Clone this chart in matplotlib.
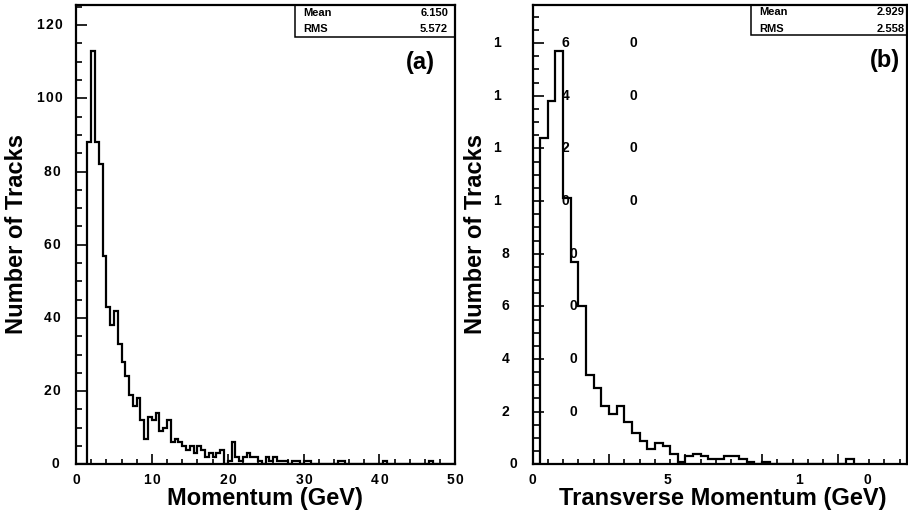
import numpy as np
import matplotlib
matplotlib.use("Agg")
import matplotlib.pyplot as plt
from matplotlib.patches import Rectangle
from matplotlib.ticker import FixedLocator, NullFormatter

plt.rcParams['font.family'] = ['Liberation Sans', 'DejaVu Sans']
plt.rcParams['font.weight'] = 'bold'

# --- panel (a): track momentum, 0.5 GeV bins over 0..50
p_bin_width = 0.5
p_counts = [0, 0, 0, 88, 113, 88, 82, 57, 43, 38,
            42, 33, 28, 24, 19, 16, 18, 12, 7, 13,
            12, 14, 9, 10, 12, 6, 7, 6, 5, 4,
            5, 3, 5, 4, 2, 3, 2, 3, 4, 0,
            1, 6, 2, 1, 2, 3, 2, 2, 1, 0,
            2, 1, 2, 1, 1, 1, 0, 1, 1, 0,
            1, 1, 0, 0, 0, 0, 0, 0, 0, 1,
            1, 0, 0, 0, 0, 0, 0, 0, 0, 0,
            0, 1, 0, 0, 0, 0, 0, 0, 0, 0,
            0, 0, 0, 1, 0, 0, 0, 0, 0, 0]
p_stats = [("Mean", "6.150"), ("RMS", "5.572")]
p_yticks = [0, 20, 40, 60, 80, 100, 120]
p_xticks = [0, 10, 20, 30, 40, 50]

# --- panel (b): transverse momentum
pt_bin_width = 0.2833
pt_counts = [0, 124, 138, 157, 101, 77, 60, 34, 29, 22,
             19, 22, 16, 12, 9, 6, 8, 7, 4, 1,
             3, 4, 3, 2, 2, 3, 3, 2, 1, 0,
             1, 0, 0, 0, 0, 0, 0, 0, 0, 0,
             0, 2]
pt_stats = [("Mean", "2.929"), ("RMS", "2.558")]
pt_yticks = [0, 20, 40, 60, 80, 100, 120, 140, 160]
pt_xticks = [0, 5, 10]

W, H = 908, 518
PT = 0.72  # points per pixel at dpi 100
fig = plt.figure(figsize=(W / 100, H / 100), dpi=100)


def px_axes(l, t, r, b):
    return fig.add_axes([l / W, 1 - b / H, (r - l) / W, (b - t) / H])


def spread(ax, text, xy, trans, x0_px, step_px, y_px=0, size=10):
    # tick labels with the characters pulled apart, as in the original print
    for i, ch in enumerate(text):
        ax.annotate(ch, xy=xy, xycoords=trans,
                    xytext=((x0_px + i * step_px) * PT, y_px * PT),
                    textcoords='offset points', ha='center', va='center',
                    fontsize=size, fontweight='bold', annotation_clip=False)


def style(ax, xmax, ymax, xmaj, xmin, ymaj, ymin):
    ax.set_xlim(0, xmax)
    ax.set_ylim(0, ymax)
    for s in ax.spines.values():
        s.set_linewidth(1.6)
    ax.xaxis.set_major_locator(FixedLocator(xmaj))
    ax.xaxis.set_minor_locator(FixedLocator(xmin))
    ax.yaxis.set_major_locator(FixedLocator(ymaj))
    ax.yaxis.set_minor_locator(FixedLocator(ymin))
    ax.xaxis.set_major_formatter(NullFormatter())
    ax.yaxis.set_major_formatter(NullFormatter())
    ax.tick_params(which='both', direction='in', top=False, right=False, width=1.2)
    ax.tick_params(axis='y', which='major', length=8)
    ax.tick_params(axis='y', which='minor', length=4.3)
    ax.tick_params(axis='x', which='major', length=7)
    ax.tick_params(axis='x', which='minor', length=3.5)


def stats_box(ax, x0, y0, rows, xl, xr, ys):
    ax.add_patch(Rectangle((x0, y0), 1 - x0, 1 - y0, transform=ax.transAxes,
                           fill=False, lw=1.1, ec='black', clip_on=False))
    for (name, val), y in zip(rows, ys):
        ax.text(xl, y, name, transform=ax.transAxes, ha='left', va='center',
                fontsize=8, fontweight='bold')
        ax.text(xr, y, val, transform=ax.transAxes, ha='right', va='center',
                fontsize=8, fontweight='bold')


# ---------------- (a)
ax_a = px_axes(76, 5, 455.3, 464.3)
edges_a = np.arange(len(p_counts) + 1) * p_bin_width
ax_a.stairs(p_counts, edges_a, color='black', lw=1.6)
style(ax_a, 50, 125.5, p_xticks, np.arange(0, 51, 2), p_yticks, np.arange(0, 126, 5))
for v in p_yticks:
    s = str(v)
    spread(ax_a, s, (0, v), ax_a.get_yaxis_transform(), -17 - (len(s) - 0.5) * 7.5, 9)
for v in p_xticks:
    s = str(v)
    spread(ax_a, s, (v, 0), ax_a.get_xaxis_transform(), -(len(s) - 1) * 4.5, 9, y_px=-15.5)
stats_box(ax_a, 0.5774, 0.931, p_stats, 0.598, 0.981, [0.982, 0.947])
ax_a.text(0.9465, 0.874, "(a)", transform=ax_a.transAxes, ha='right', va='center',
          fontsize=17, fontweight='bold')

# ---------------- (b)
ax_b = px_axes(532.5, 5, 907, 464.3)
edges_b = np.arange(len(pt_counts) + 1) * pt_bin_width
ax_b.stairs(pt_counts, edges_b, color='black', lw=1.6)
style(ax_b, 13.87, 174.5, np.arange(0, 13.9, 5 * 2 * pt_bin_width),
      np.arange(0, 13.9, 2 * pt_bin_width), pt_yticks, np.arange(0, 175, 5))
for v in pt_yticks:
    s = str(v)
    spread(ax_b, s, (0, v), ax_b.get_yaxis_transform(), -14.5 - (len(s) - 0.5) * 8.5, 68.5)
for v in pt_xticks:
    s = str(v)
    spread(ax_b, s, (v, 0), ax_b.get_xaxis_transform(), -(len(s) - 1) * 3.6, 68, y_px=-15.5)
stats_box(ax_b, 0.5834, 0.934, pt_stats, 0.605, 0.993, [0.984, 0.948])
ax_b.text(0.981, 0.880, "(b)", transform=ax_b.transAxes, ha='right', va='center',
          fontsize=17, fontweight='bold')

# axis titles
fig.text(265 / W, 1 - 499 / H, "Momentum (GeV)", ha='center', va='center',
         fontsize=17, fontweight='bold')
fig.text(723 / W, 1 - 499 / H, "Transverse Momentum (GeV)", ha='center', va='center',
         fontsize=17, fontweight='bold')
fig.text(17 / W, 1 - 234 / H, "Number of Tracks", ha='center', va='center',
         rotation=90, fontsize=17, fontweight='bold')
fig.text(475 / W, 1 - 234 / H, "Number of Tracks", ha='center', va='center',
         rotation=90, fontsize=17, fontweight='bold')

fig.savefig("out.png", dpi=100)
